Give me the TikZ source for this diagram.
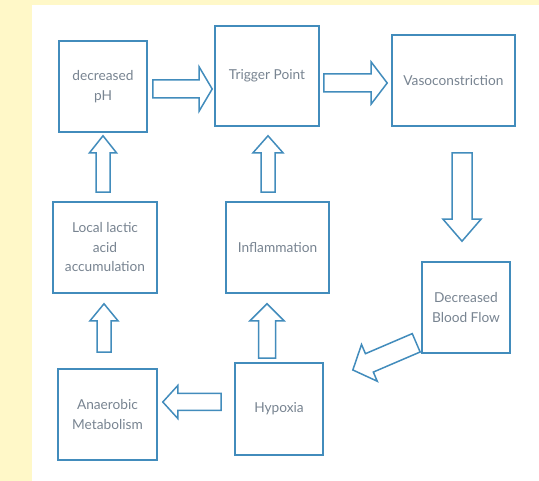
\documentclass[tikz,border=0pt]{standalone}
\usepackage{fontspec}
\setmainfont{Lato}
\usetikzlibrary{calc}
\definecolor{bgyellow}{RGB}{255,248,200}
\definecolor{boxblue}{RGB}{66,140,188}
\definecolor{textgray}{RGB}{120,132,145}
\tikzset{
  stepbox/.style={draw=boxblue, line width=1.6pt, text=textgray, align=center,
    inner sep=0pt, font=\fontsize{13.7}{19.5}\selectfont},
  fatline/.style={draw=boxblue, line width=1.5pt, line join=miter}
}
% block arrow: tail, tip, body half width, head half width, head length
\newcommand{\fatarrow}[5]{%
  \path let \p1=#1, \p2=#2 in \pgfextra{%
    \pgfmathsetmacro\fa{atan2(\y2-\y1,\x2-\x1)}%
    \pgfmathsetmacro\fl{veclen(\x2-\x1,\y2-\y1)}%
    \xdef\fang{\fa}\xdef\flen{\fl}\xdef\fx{\x1}\xdef\fy{\y1}};
  \begin{scope}[shift={(\fx,\fy)}, rotate=\fang]
    \draw[fatline] (0,-#3) -- (\flen-#5,-#3) -- (\flen-#5,-#4) -- (\flen,0)
      -- (\flen-#5,#4) -- (\flen-#5,#3) -- (0,#3) -- cycle;
  \end{scope}}

\begin{document}
\begin{tikzpicture}[x=1pt, y=-1pt]
\fill[bgyellow] (0,0) rectangle (539,481);
\fill[white] (32,5) rectangle (539,481);
\useasboundingbox (0,0) rectangle (539,481);

% boxes
\node[stepbox, minimum width=88, minimum height=91] (ph) at (103,86.5) {decreased\\pH};
\node[stepbox, minimum width=104, minimum height=100] (tp) at (267,76) {Trigger Point};
\node[stepbox, minimum width=123, minimum height=91] (vc) at (453.5,80.5) {Vasoconstriction};
\node[stepbox, minimum width=104, minimum height=91] (lla) at (105,247.5) {Local lactic\\acid\\accumulation};
\node[stepbox, minimum width=103, minimum height=91] (inf) at (277.5,247.5) {Inflammation};
\node[stepbox, minimum width=88, minimum height=91] (dbf) at (466,307.5) {Decreased\\Blood Flow};
\node[stepbox, minimum width=99, minimum height=91] (am) at (107.5,414.5) {Anaerobic\\Metabolism};
\node[stepbox, minimum width=88, minimum height=92] (hyp) at (279,409) {Hypoxia};

% arrows
\fatarrow{($(ph.east)+(5,2.5)$)}{($(tp.west)+(-2,13)$)}{9}{22}{13}
\fatarrow{($(tp.east)+(4,7)$)}{($(vc.west)+(-4,2.5)$)}{9}{21}{16}
\fatarrow{($(vc.south)+(8.5,26)$)}{($(dbf.north)+(-4,-20)$)}{10}{19}{22}
\fatarrow{($(lla.north)+(-2,-9)$)}{($(ph.south)+(0,3)$)}{7}{13.5}{17}
\fatarrow{($(inf.north)+(-9.5,-9)$)}{($(tp.south)+(1,9)$)}{7}{15}{17}
\fatarrow{($(am.north)+(-3.5,-16)$)}{($(lla.south)+(-1,10)$)}{7}{14}{17}
\fatarrow{($(hyp.north)+(-12,-4)$)}{($(inf.south)+(-10.5,10)$)}{8.5}{17}{17}
\fatarrow{($(hyp.west)+(-13,-7)$)}{($(am.east)+(5,-12.5)$)}{8.5}{16.5}{15}
\fatarrow{($(dbf.south west)+(-5,-11)$)}{($(hyp.east)+(29,-39)$)}{10}{20}{18}
\end{tikzpicture}
\end{document}
